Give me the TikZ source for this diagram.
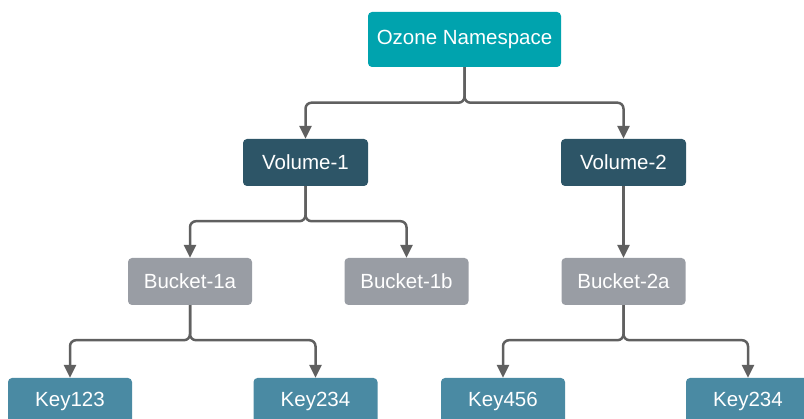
\documentclass[tikz,border=0pt]{standalone}
\usepackage{fontspec}
\setmainfont{Liberation Sans}
\usetikzlibrary{arrows.meta}
\definecolor{ozoneteal}{HTML}{00A3AE}
\definecolor{voldark}{HTML}{2D5567}
\definecolor{bucketgray}{HTML}{999DA4}
\definecolor{keyblue}{HTML}{4A8AA3}
\definecolor{linegray}{HTML}{606060}
\begin{document}
\begin{tikzpicture}[x=1pt,y=-1pt,>={Triangle[length=13pt,width=12pt]},
  every node/.style={text=white,rounded corners=4pt,inner sep=0pt,
    font=\fontsize{20.5}{24}\selectfont},
  ns node/.style={fill=ozoneteal,minimum width=193pt,minimum height=55pt},
  vol node/.style={fill=voldark,minimum width=125pt,minimum height=47pt},
  bkt node/.style={fill=bucketgray,minimum width=124pt,minimum height=47pt},
  key node/.style={fill=keyblue,minimum width=124pt,minimum height=46pt},
  link/.style={->,draw=linegray,line width=2.5pt,rounded corners=6pt}]
  \useasboundingbox (0,0) rectangle (804,419);
  \node[ns node] (ozone) at (464.5,39.5) {Ozone Namespace};
  \node[vol node] (v1) at (305.5,162.5) {Volume-1};
  \node[vol node] (v2) at (623.5,162.5) {Volume-2};
  \node[bkt node] (b1a) at (190,281.5) {Bucket-1a};
  \node[bkt node] (b1b) at (406.5,281.5) {Bucket-1b};
  \node[bkt node] (b2a) at (623.5,281.5) {Bucket-2a};
  \node[key node] (k123) at (70,401) {Key123};
  \node[key node] (k234) at (315.5,401) {Key234};
  \node[key node] (k456) at (503,401) {Key456};
  \node[key node] (k234b) at (748,401) {Key234};
  % namespace -> volumes
  \draw[link] (ozone.south) -- ++(0,35.5) -| (v1.north);
  \draw[link] (ozone.south) -- ++(0,35.5) -| (v2.north);
  % volumes -> buckets
  \draw[link] (v1.south) -- ++(0,35) -| (b1a.north);
  \draw[link] (v1.south) -- ++(0,35) -| (b1b.north);
  \draw[link] (v2.south) -- (b2a.north);
  % buckets -> keys
  \draw[link] (b1a.south) -- ++(0,35) -| (k123.north);
  \draw[link] (b1a.south) -- ++(0,35) -| (k234.north);
  \draw[link] (b2a.south) -- ++(0,35) -| (k456.north);
  \draw[link] (b2a.south) -- ++(0,35) -| (k234b.north);
\end{tikzpicture}
\end{document}
